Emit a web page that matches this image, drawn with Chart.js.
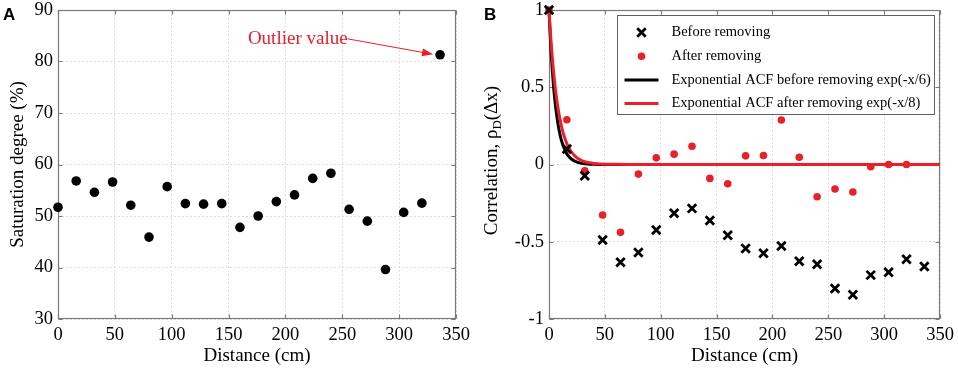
<!DOCTYPE html>
<html><head><meta charset="utf-8">
<script src="https://cdn.jsdelivr.net/npm/chart.js@4/dist/chart.umd.min.js"></script>
<style>
html,body{margin:0;padding:0;background:#fff;}
#wrap{position:relative;width:958px;height:369px;overflow:hidden;}
#ca{position:absolute;left:0;top:0;}
#cb{position:absolute;left:479px;top:0;}
</style></head><body>
<div id="wrap"><canvas id="ca" width="479" height="369"></canvas><canvas id="cb" width="479" height="369"></canvas></div>
<script>
// ---------- data ----------
const distA = [0,16,32,48,64,80,96,112,128,144,160,176,192,208,224,240,256,272,288,304,320,336];
const saturation = [51.7,56.8,54.6,56.6,52.1,45.9,55.7,52.4,52.3,52.4,47.8,50.0,52.8,54.1,57.3,58.3,51.3,49.0,39.6,50.7,52.5,81.3];

const distBefore = [0,16,32,48,64,80,96,112,128,144,160,176,192,208,224,240,256,272,288,304,320,336];
const corrBefore = [1.0,0.10,-0.073,-0.488,-0.632,-0.570,-0.424,-0.316,-0.284,-0.363,-0.458,-0.544,-0.574,-0.527,-0.626,-0.645,-0.802,-0.843,-0.716,-0.697,-0.613,-0.660];

const distAfter = [0,16,32,48,64,80,96,112,128,144,160,176,192,208,224,240,256,272,288,304,320];
const corrAfter = [1.0,0.29,-0.041,-0.327,-0.439,-0.062,0.043,0.067,0.118,-0.090,-0.125,0.056,0.058,0.288,0.047,-0.209,-0.159,-0.178,-0.015,0.0,0.0];

const curveX      = [0,1,2,3,4,5,6,8,10,12,14,16,18,20,24,28,32,36,40,50,60,80,350];
const curveBefore = [1,0.846,0.717,0.607,0.513,0.435,0.368,0.264,0.189,0.135,0.097,0.069,0.050,0.036,0.018,0.009,0.005,0.002,0.001,0,0,0,0];
const curveAfter  = [1,0.882,0.779,0.687,0.607,0.535,0.472,0.368,0.287,0.223,0.174,0.135,0.105,0.082,0.050,0.030,0.018,0.011,0.007,0.002,0.001,0,0];

const labelsB = ['Before removing','After removing','Exponential ACF before removing exp(-x/6)','Exponential ACF after removing exp(-x/8)'];

// ---------- styling ----------
const RED = '#e8202a';
const SERIF = '"Liberation Serif", "Times New Roman", serif';
const GRID = '#dedede';
const tickFont = {family: SERIF, size: 18.5, lineHeight: 1};
const titleFont = {family: SERIF, size: 19, lineHeight: 1.2};
const toXY = (xs, ys) => xs.map((x, i) => ({x, y: ys[i]}));

const framePlugin = {
  id: 'frame',
  beforeDatasetsDraw(chart) {
    const {ctx, chartArea: a, scales: {x, y}} = chart;
    const L = Math.round(a.left) + 0.5, R = Math.round(a.right) - 0.5;
    const T = Math.round(a.top) + 0.5, B = Math.round(a.bottom) - 0.5;
    ctx.save();
    ctx.strokeStyle = '#7a7a7a';
    ctx.lineWidth = 1.2;
    ctx.strokeRect(L, T, R - L, B - T);
    const tl = 4;
    ctx.beginPath();
    x.ticks.forEach(t => {
      const p = Math.round(x.getPixelForValue(t.value)) + 0.5;
      ctx.moveTo(p, B); ctx.lineTo(p, B - tl);
      ctx.moveTo(p, T); ctx.lineTo(p, T + tl);
    });
    y.ticks.forEach(t => {
      const p = Math.round(y.getPixelForValue(t.value)) + 0.5;
      ctx.moveTo(L, p); ctx.lineTo(L + tl, p);
      ctx.moveTo(R, p); ctx.lineTo(R - tl, p);
    });
    ctx.stroke();
    ctx.restore();
  }
};

const panelLabel = {
  id: 'panelLabel',
  afterDraw(chart, args, opts) {
    const ctx = chart.ctx;
    ctx.save();
    ctx.font = 'bold 17px "Liberation Sans", Arial, sans-serif';
    ctx.fillStyle = '#000';
    ctx.textBaseline = 'alphabetic';
    ctx.textAlign = 'left';
    ctx.fillText(opts.text, opts.x, opts.y);
    ctx.restore();
  }
};

const outlierNote = {
  id: 'outlierNote',
  afterDatasetsDraw(chart, args, opts) {
    const {ctx, scales: {x, y}} = chart;
    const data = chart.data.datasets[0].data;
    let k = 0;
    data.forEach((d, i) => { if (d.y > data[k].y) k = i; });
    const px = x.getPixelForValue(data[k].x), py = y.getPixelForValue(data[k].y);
    const tx = x.getPixelForValue(opts.textX), ty = y.getPixelForValue(opts.textY);
    ctx.save();
    ctx.font = '19px ' + SERIF;
    ctx.fillStyle = RED;
    ctx.textBaseline = 'middle';
    ctx.textAlign = 'left';
    ctx.fillText(opts.text, tx, ty);
    const w = ctx.measureText(opts.text).width;
    const sx = tx + w, sy = ty;
    const ex = px - 7, ey = py - 0.5;
    const ang = Math.atan2(ey - sy, ex - sx);
    ctx.strokeStyle = RED; ctx.lineWidth = 1;
    ctx.beginPath(); ctx.moveTo(sx, sy); ctx.lineTo(ex - 8 * Math.cos(ang), ey - 8 * Math.sin(ang)); ctx.stroke();
    ctx.beginPath();
    ctx.moveTo(ex, ey);
    ctx.lineTo(ex - 11 * Math.cos(ang) + 4 * Math.sin(ang), ey - 11 * Math.sin(ang) - 4 * Math.cos(ang));
    ctx.lineTo(ex - 11 * Math.cos(ang) - 4 * Math.sin(ang), ey - 11 * Math.sin(ang) + 4 * Math.cos(ang));
    ctx.closePath(); ctx.fill();
    ctx.restore();
  }
};

const boxLegend = {
  id: 'boxLegend',
  afterDatasetsDraw(chart, args, opts) {
    const {ctx, chartArea: a} = chart;
    const bx = Math.round(a.left + opts.dx) + 0.5, by = Math.round(a.top + opts.dy) + 0.5;
    ctx.save();
    ctx.fillStyle = '#fff';
    ctx.fillRect(bx, by, opts.w, opts.h);
    ctx.strokeStyle = '#606060'; ctx.lineWidth = 1;
    ctx.strokeRect(bx, by, opts.w, opts.h);
    ctx.font = '14.5px ' + SERIF;
    ctx.textBaseline = 'middle'; ctx.textAlign = 'left';
    opts.order.forEach((lab, i) => {
      const ds = chart.data.datasets.find(d => d.label === lab);
      const cy = by + opts.first + i * opts.step;
      const mx = bx + 24;
      if (ds.showLine) {
        ctx.strokeStyle = ds.borderColor; ctx.lineWidth = ds.borderWidth;
        ctx.beginPath(); ctx.moveTo(bx + 7, cy); ctx.lineTo(bx + 41, cy); ctx.stroke();
      } else if (ds.pointStyle === 'crossRot') {
        const r = ds.pointRadius * 0.7071;
        ctx.strokeStyle = ds.borderColor; ctx.lineWidth = ds.borderWidth;
        ctx.beginPath();
        ctx.moveTo(mx - r, cy - r); ctx.lineTo(mx + r, cy + r);
        ctx.moveTo(mx - r, cy + r); ctx.lineTo(mx + r, cy - r);
        ctx.stroke();
      } else {
        ctx.fillStyle = ds.backgroundColor;
        ctx.beginPath(); ctx.arc(mx, cy, ds.pointRadius, 0, Math.PI * 2); ctx.fill();
      }
      ctx.fillStyle = '#000';
      ctx.fillText(lab, bx + opts.textDx, cy);
    });
    ctx.restore();
  }
};

const subTitle = {
  id: 'subTitle',
  afterDraw(chart, args, opts) {
    const {ctx, chartArea: a} = chart;
    ctx.save();
    const big = '19px ' + SERIF, small = '13px ' + SERIF;
    ctx.font = big;
    const w1 = ctx.measureText(opts.main).width, w3 = ctx.measureText(opts.tail).width;
    ctx.font = small;
    const w2 = ctx.measureText(opts.sub).width;
    const total = w1 + w2 + w3;
    ctx.translate(opts.x, (a.top + a.bottom) / 2 + opts.dy);
    ctx.rotate(-Math.PI / 2);
    ctx.fillStyle = '#000';
    ctx.textBaseline = 'middle'; ctx.textAlign = 'left';
    let s = -total / 2;
    ctx.font = big; ctx.fillText(opts.main, s, 0);
    ctx.font = small; ctx.fillText(opts.sub, s + w1, 6);
    ctx.font = big; ctx.fillText(opts.tail, s + w1 + w2, 0);
    ctx.restore();
  }
};

function axisX(title) {
  return {
    type: 'linear', min: 0, max: 350,
    ticks: {stepSize: 50, color: '#000', font: tickFont, padding: 7, maxRotation: 0, autoSkip: false},
    grid: {color: GRID, lineWidth: 1, drawTicks: false},
    border: {display: false, dash: [2, 2]},
    title: {display: true, text: title, color: '#000', font: titleFont, padding: {top: 0, bottom: 2}},
    afterFit(s) { s.height = 50; s.paddingLeft = 0; s.paddingRight = 0; }
  };
}

function axisY(min, max, step, width, title, fmt) {
  return {
    type: 'linear', min: min, max: max,
    ticks: {stepSize: step, color: '#000', font: tickFont, padding: 5, callback: fmt},
    grid: {color: GRID, lineWidth: 1, drawTicks: false},
    border: {display: false, dash: [2, 2]},
    title: title,
    afterFit(s) { s.width = width; s.paddingTop = 0; s.paddingBottom = 0; }
  };
}

// ---------- chart A ----------
new Chart(document.getElementById('ca'), {
  type: 'scatter',
  data: {datasets: [{
    label: 'Saturation degree',
    data: toXY(distA, saturation),
    pointRadius: 4.8, pointHoverRadius: 4.8,
    backgroundColor: '#000', borderColor: '#000', borderWidth: 0,
    clip: false
  }]},
  options: {
    responsive: false, animation: false, devicePixelRatio: 1,
    layout: {padding: {left: 0, right: 23, top: 10, bottom: 0}},
    plugins: {
      legend: {display: false}, tooltip: {enabled: false},
      panelLabel: {text: 'A', x: 3, y: 20},
      outlierNote: {text: 'Outlier value', textX: 167, textY: 84.4}
    },
    scales: {
      x: axisX('Distance (cm)'),
      y: axisY(30, 90, 10, 58,
        {display: true, text: 'Saturation degree (%)', color: '#000', font: titleFont, padding: {top: 7, bottom: 0}},
        v => String(v))
    }
  },
  plugins: [framePlugin, panelLabel, outlierNote]
});

// ---------- chart B ----------
new Chart(document.getElementById('cb'), {
  type: 'scatter',
  data: {datasets: [
    {label: labelsB[0], data: toXY(distBefore, corrBefore), pointStyle: 'crossRot', pointRadius: 6, pointHoverRadius: 6,
     borderColor: '#000', backgroundColor: '#000', borderWidth: 2.8, showLine: false, clip: false, order: 0},
    {label: labelsB[1], data: toXY(distAfter, corrAfter), pointStyle: 'circle', pointRadius: 3.8, pointHoverRadius: 3.8,
     borderColor: RED, backgroundColor: RED, borderWidth: 0, showLine: false, clip: false, order: 1},
    {label: labelsB[2], data: toXY(curveX, curveBefore), showLine: true, pointRadius: 0, borderColor: '#000',
     backgroundColor: '#000', borderWidth: 3, tension: 0.3, clip: false, order: 3},
    {label: labelsB[3], data: toXY(curveX, curveAfter), showLine: true, pointRadius: 0, borderColor: RED,
     backgroundColor: RED, borderWidth: 3, tension: 0.3, clip: false, order: 2}
  ]},
  options: {
    responsive: false, animation: false, devicePixelRatio: 1,
    layout: {padding: {left: 0, right: 18, top: 10, bottom: 0}},
    plugins: {
      legend: {display: false}, tooltip: {enabled: false},
      panelLabel: {text: 'B', x: 5, y: 20},
      boxLegend: {order: labelsB, dx: 68, dy: 5, w: 317, h: 99, first: 17, step: 23.7, textDx: 54},
      subTitle: {main: 'Correlation, ρ', sub: 'D', tail: '(Δx)', x: 13, dy: -4}
    },
    scales: {
      x: axisX('Distance (cm)'),
      y: axisY(-1, 1, 0.5, 70, {display: false}, v => String(Math.round(v * 10) / 10))
    }
  },
  plugins: [framePlugin, panelLabel, boxLegend, subTitle]
});
</script>
</body></html>
